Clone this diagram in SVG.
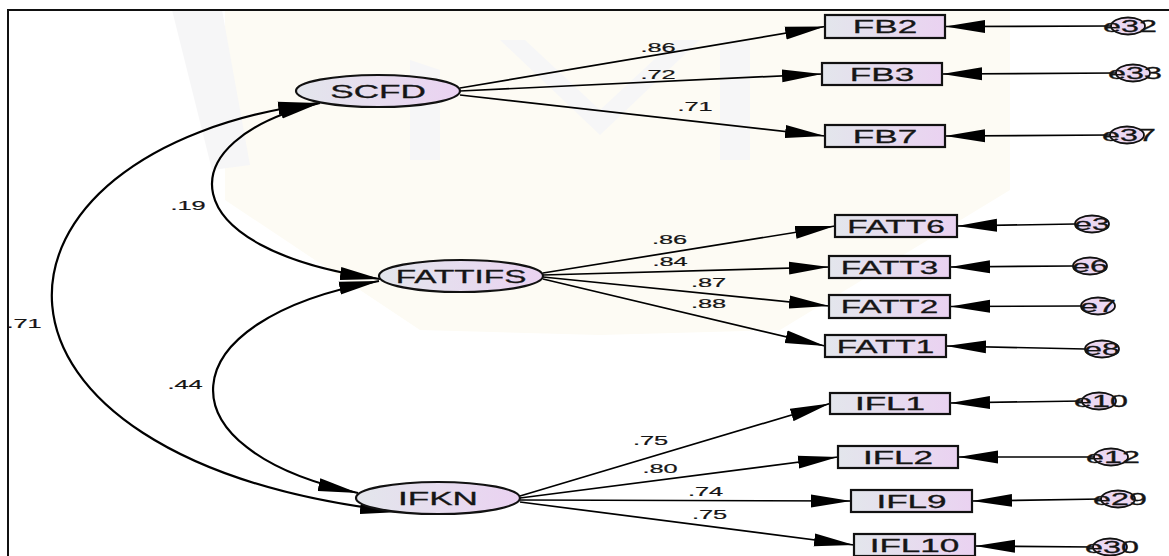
<svg xmlns="http://www.w3.org/2000/svg" width="1169" height="556" viewBox="0 0 1169 556">
  <defs>
    <linearGradient id="fillGrad" x1="0" y1="0" x2="1" y2="0">
      <stop offset="0" stop-color="#e3e6ec"/>
      <stop offset="1" stop-color="#ead2f1"/>
    </linearGradient>
    <marker id="arr" markerUnits="userSpaceOnUse" markerWidth="40" markerHeight="14" refX="40" refY="7" orient="auto-start-reverse">
      <path d="M0,0.5 L40,7 L0,13.5 Z" fill="#000"/>
    </marker>
    <style>
      .node { fill: url(#fillGrad); stroke: #111; stroke-width: 2.2; }
      .err { fill: #ecd8f2; stroke: #111; stroke-width: 1.8; }
      .name { font-family: "Liberation Sans", Arial, sans-serif; font-size: 18px; fill: #151515; stroke: #151515; stroke-width: 0.3; text-anchor: middle; }
      .ename { font-family: "Liberation Sans", Arial, sans-serif; font-size: 17px; fill: #151515; stroke: #151515; stroke-width: 0.3; text-anchor: middle; }
      .val { font-family: "Liberation Sans", Arial, sans-serif; font-size: 13px; fill: #151515; stroke: #151515; stroke-width: 0.2; text-anchor: middle; }
      .edge { fill: none; stroke: #000; stroke-width: 1.7; marker-end: url(#arr); }
      .cov { fill: none; stroke: #000; stroke-width: 2.2; marker-start: url(#arr); marker-end: url(#arr); }
      .wm1 { fill: #fdfbf4; }
      .wm2 { fill: #f6f6f7; }
    </style>
  </defs>

  <rect width="1169" height="556" fill="#fff"/>
  <!-- faint background emblem -->
  <g id="emblem">
    <polygon class="wm1" points="225,10 1010,10 1010,190 780,330 600,335 420,330 225,200"/>
    <polygon class="wm2" points="172,10 222,10 250,165 212,170"/>
    <polygon class="wm2" points="410,60 440,70 440,160 410,160"/>
    <polygon class="wm2" points="500,40 525,40 600,110 675,40 700,40 600,135"/>
    <polygon class="wm2" points="720,40 750,40 750,160 720,160"/>
  </g>
  <!-- frame -->
  <rect x="8" y="10" width="1200" height="600" fill="none" stroke="#111" stroke-width="2"/>

  <!-- connectors -->
  <g id="connectors">
    <!-- covariances -->
    <path class="cov" d="M320,103 C165,140 170,250 380,279"/>
    <path class="cov" d="M379,281 C165,320 158,450 358,493"/>
    <path class="cov" d="M318,103 C-40,150 -60,460 400,512"/>
    <!-- loadings -->
    <path class="edge" d="M460,88 L825,26.5"/>
    <path class="edge" d="M460,91 L822,74"/>
    <path class="edge" d="M460,95 L825,136"/>
    <path class="edge" d="M543,273 L835,226"/>
    <path class="edge" d="M543,275 L829,267"/>
    <path class="edge" d="M543,277 L829,306"/>
    <path class="edge" d="M543,279 L825,346"/>
    <path class="edge" d="M520,496 L830,403.5"/>
    <path class="edge" d="M520,498 L838,457"/>
    <path class="edge" d="M520,500 L851,501"/>
    <path class="edge" d="M520,502 L854,545"/>
    <!-- error terms -->
    <path class="edge" d="M1111,26 L945,26.5"/>
    <path class="edge" d="M1116,73 L942,74"/>
    <path class="edge" d="M1110,135 L945,136"/>
    <path class="edge" d="M1075,224 L957,226"/>
    <path class="edge" d="M1073,266 L950,267"/>
    <path class="edge" d="M1081,306 L950,306.5"/>
    <path class="edge" d="M1085,349 L946,346"/>
    <path class="edge" d="M1082,401 L950,403"/>
    <path class="edge" d="M1094,457 L958,457"/>
    <path class="edge" d="M1101,499 L972,501"/>
    <path class="edge" d="M1093,547 L975,546"/>
  </g>

  <!-- coefficient labels -->
  <g id="labels">
    <text class="val" transform="translate(658,52) scale(1.95,1)">.86</text>
    <text class="val" transform="translate(658,79) scale(1.95,1)">.72</text>
    <text class="val" transform="translate(695,111) scale(1.95,1)">.71</text>
    <text class="val" transform="translate(669.5,244) scale(1.95,1)">.86</text>
    <text class="val" transform="translate(670,265.5) scale(1.95,1)">.84</text>
    <text class="val" transform="translate(708.5,287) scale(1.95,1)">.87</text>
    <text class="val" transform="translate(708.5,308) scale(1.95,1)">.88</text>
    <text class="val" transform="translate(650.5,445) scale(1.95,1)">.75</text>
    <text class="val" transform="translate(660,473) scale(1.95,1)">.80</text>
    <text class="val" transform="translate(705.5,496) scale(1.95,1)">.74</text>
    <text class="val" transform="translate(709.5,519) scale(1.95,1)">.75</text>
    <text class="val" transform="translate(188,210) scale(1.95,1)">.19</text>
    <text class="val" transform="translate(185,389) scale(1.95,1)">.44</text>
    <text class="val" transform="translate(24,328) scale(1.95,1)">.71</text>
  </g>

  <!-- latent variables -->
  <g id="SCFD">
    <ellipse class="node" cx="378" cy="91" rx="82" ry="16"/>
    <text class="name" transform="translate(378,97.5) scale(1.95,1)">SCFD</text>
  </g>
  <g id="FATTIFS">
    <ellipse class="node" cx="461" cy="276" rx="82" ry="16"/>
    <text class="name" transform="translate(461,282.5) scale(1.85,1)">FATTIFS</text>
  </g>
  <g id="IFKN">
    <ellipse class="node" cx="438" cy="498" rx="82" ry="16"/>
    <text class="name" transform="translate(438,504.5) scale(1.95,1)">IFKN</text>
  </g>

  <!-- observed indicators -->
  <g id="FB2"><rect class="node" x="825" y="15" width="120" height="23"/><text class="name" transform="translate(885,33) scale(1.95,1)">FB2</text></g>
  <g id="FB3"><rect class="node" x="822" y="63" width="120" height="22"/><text class="name" transform="translate(882,80.5) scale(1.95,1)">FB3</text></g>
  <g id="FB7"><rect class="node" x="825" y="125" width="120" height="22"/><text class="name" transform="translate(885,142.5) scale(1.95,1)">FB7</text></g>
  <g id="FATT6"><rect class="node" x="835" y="215" width="122" height="22"/><text class="name" transform="translate(896,232.5) scale(1.85,1)">FATT6</text></g>
  <g id="FATT3"><rect class="node" x="829" y="256" width="121" height="22"/><text class="name" transform="translate(889.5,273.5) scale(1.85,1)">FATT3</text></g>
  <g id="FATT2"><rect class="node" x="829" y="295" width="121" height="23"/><text class="name" transform="translate(889.5,313) scale(1.85,1)">FATT2</text></g>
  <g id="FATT1"><rect class="node" x="825" y="335" width="121" height="22"/><text class="name" transform="translate(885.5,352.5) scale(1.85,1)">FATT1</text></g>
  <g id="IFL1"><rect class="node" x="830" y="393" width="120" height="21"/><text class="name" transform="translate(890,410) scale(1.95,1)">IFL1</text></g>
  <g id="IFL2"><rect class="node" x="838" y="446" width="120" height="22"/><text class="name" transform="translate(898,463.5) scale(1.95,1)">IFL2</text></g>
  <g id="IFL9"><rect class="node" x="851" y="490" width="121" height="22"/><text class="name" transform="translate(911.5,507.5) scale(1.95,1)">IFL9</text></g>
  <g id="IFL10"><rect class="node" x="854" y="534" width="121" height="22"/><text class="name" transform="translate(914.5,551.5) scale(1.95,1)">IFL10</text></g>

  <!-- error terms -->
  <g id="e32"><ellipse class="err" cx="1128" cy="26" rx="17" ry="8.5"/><text class="ename" transform="translate(1130,32) scale(1.9,1)">e32</text></g>
  <g id="e33"><ellipse class="err" cx="1133" cy="73" rx="17" ry="8.5"/><text class="ename" transform="translate(1135,79) scale(1.9,1)">e33</text></g>
  <g id="e37"><ellipse class="err" cx="1127" cy="135" rx="17" ry="8.5"/><text class="ename" transform="translate(1129,141) scale(1.9,1)">e37</text></g>
  <g id="e3"><ellipse class="err" cx="1092" cy="224" rx="17" ry="8.5"/><text class="ename" transform="translate(1092,230) scale(1.9,1)">e3</text></g>
  <g id="e6"><ellipse class="err" cx="1090" cy="266" rx="17" ry="8.5"/><text class="ename" transform="translate(1090,272) scale(1.9,1)">e6</text></g>
  <g id="e7"><ellipse class="err" cx="1098" cy="306" rx="17" ry="8.5"/><text class="ename" transform="translate(1098,312) scale(1.9,1)">e7</text></g>
  <g id="e8"><ellipse class="err" cx="1102" cy="349" rx="17" ry="8.5"/><text class="ename" transform="translate(1102,355) scale(1.9,1)">e8</text></g>
  <g id="e10"><ellipse class="err" cx="1099" cy="401" rx="17" ry="8.5"/><text class="ename" transform="translate(1101,407) scale(1.9,1)">e10</text></g>
  <g id="e12"><ellipse class="err" cx="1111" cy="457" rx="17" ry="8.5"/><text class="ename" transform="translate(1113,463) scale(1.9,1)">e12</text></g>
  <g id="e29"><ellipse class="err" cx="1118" cy="499" rx="17" ry="8.5"/><text class="ename" transform="translate(1120,505) scale(1.9,1)">e29</text></g>
  <g id="e30"><ellipse class="err" cx="1110" cy="547" rx="17" ry="8.5"/><text class="ename" transform="translate(1112,553) scale(1.9,1)">e30</text></g>
</svg>
